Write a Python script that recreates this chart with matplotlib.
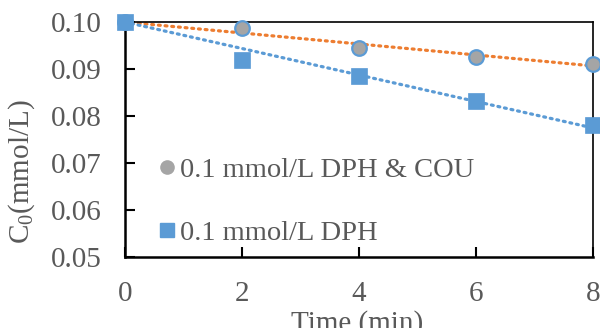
import numpy as np
import matplotlib
matplotlib.use("Agg")
import matplotlib.pyplot as plt
from matplotlib.lines import Line2D

plt.rcParams['font.family'] = ['Liberation Serif', 'DejaVu Serif']
plt.rcParams['mathtext.fontset'] = 'custom'
plt.rcParams['mathtext.rm'] = 'Liberation Serif'

time_min = [0, 2, 4, 6, 8]
dph_cou = [0.1000, 0.0987, 0.0945, 0.0926, 0.0911]
dph = [0.1000, 0.0919, 0.0885, 0.0832, 0.0781]
labels = ['0.1 mmol/L DPH & COU', '0.1 mmol/L DPH']
xticks = [0, 2, 4, 6, 8]
yticks = [0.05, 0.06, 0.07, 0.08, 0.09, 0.10]

BLUE = '#5B9BD5'
ORANGE = '#ED7D31'
GRAY = '#A5A5A5'
TXT = '#595959'

fig = plt.figure(figsize=(6.0, 3.28), dpi=100)
ax = fig.add_axes([0.2083, 0.2165, 0.78, 0.7164])

t = np.array(time_min, dtype=float)
xx = np.array([0, 8], dtype=float)


def trend_through_start(x, y):
    """Least-squares line forced through the first measured point."""
    y = np.asarray(y, dtype=float)
    y0 = y[0]
    k = np.sum(x * (y - y0)) / np.sum(x * x)
    return k, y0


for ys, col in [(dph_cou, ORANGE), (dph, BLUE)]:
    k, b = trend_through_start(t, ys)
    ax.plot(xx, k * xx + b, linestyle=(0, (0.6, 1.5)), color=col, lw=2.3,
            dash_capstyle='round', zorder=2)

ax.plot(time_min, dph_cou, linestyle='none', marker='o', ms=10.5,
        mfc=GRAY, mec=BLUE, mew=1.6, zorder=3, clip_on=False)
ax.plot(time_min, dph, linestyle='none', marker='s', ms=11,
        mfc=BLUE, mec=BLUE, mew=0.5, zorder=3, clip_on=False)

ax.set_xlim(0, 8)
ax.set_ylim(0.05, 0.10)
ax.set_xticks(xticks)
ax.set_yticks(yticks)
ax.set_xticklabels([str(v) for v in xticks])
ax.set_yticklabels([f'{v:.2f}' for v in yticks])
ax.tick_params(direction='in', length=7, width=1.5, colors='black',
               labelcolor=TXT, labelsize=21)
ax.tick_params(axis='x', pad=17)
ax.tick_params(axis='y', pad=17)
for s in ax.spines.values():
    s.set_color('black')
    s.set_linewidth(1.8)
ax.spines['top'].set_linewidth(1.2)
ax.spines['right'].set_linewidth(1.2)

ax.set_xlabel('Time (min)', fontsize=21, color=TXT)
ax.xaxis.set_label_coords(0.496, -0.225)
ax.set_ylabel(r'$\mathregular{C_0}$(mmol/L)', fontsize=21, color=TXT)
ax.yaxis.set_label_coords(-0.188, 0.362)

handles = [Line2D([], [], linestyle='none', marker='o', ms=9.5, mfc=GRAY, mec=GRAY),
           Line2D([], [], linestyle='none', marker='s', ms=10, mfc=BLUE, mec=BLUE)]
leg = ax.legend(handles, labels, loc='upper left', bbox_to_anchor=(0.068, 0.424),
                frameon=False, fontsize=20.5, labelspacing=1.28, handlelength=0.7,
                handletextpad=0.1, borderpad=0, borderaxespad=0)
for txt in leg.get_texts():
    txt.set_color(TXT)

fig.savefig('out.png', dpi=100)
